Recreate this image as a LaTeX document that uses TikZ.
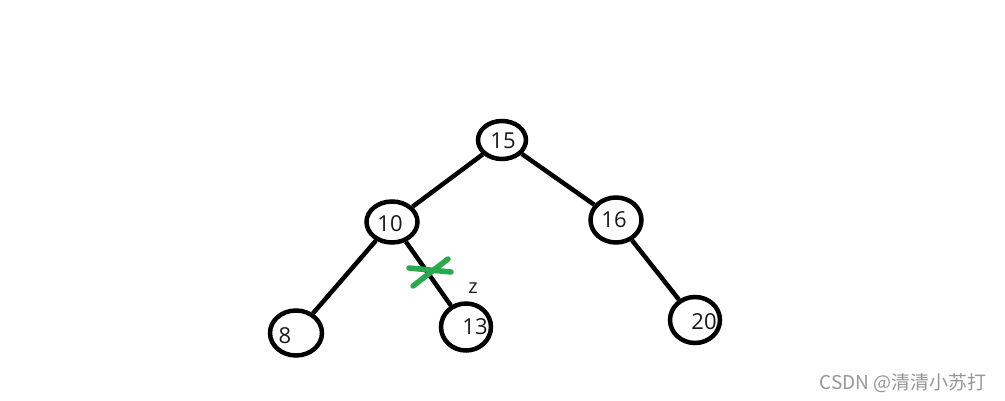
\documentclass[tikz,border=0pt]{standalone}
\usepackage{fontspec}
\setmainfont{Open Sans}
\newfontfamily\cjk{Noto Sans CJK SC}
\usetikzlibrary{shapes.geometric}
\begin{document}
\begin{tikzpicture}[x=1pt,y=-1pt,
  treenode/.style={draw=black,line width=4.5pt,ellipse,inner sep=0pt},
  numtext/.style={font=\fontsize{22}{22}\selectfont,text=black!90},
  edge/.style={draw=black,line width=4.5pt},
  cross/.style={line width=5.5pt,line cap=round,color={rgb,255:red,42;green,168;blue,78}}]
\useasboundingbox (0,0) rectangle (1005,401);
\fill[white] (0,0) rectangle (1005,401);
\node[treenode,minimum width=48pt,minimum height=38pt] (n15) at (502,140) {};
\node[treenode,minimum width=51pt,minimum height=41pt] (n10) at (392,222) {};
\node[treenode,minimum width=51pt,minimum height=45pt] (n16) at (616,220) {};
\node[treenode,minimum width=52pt,minimum height=45pt] (n8) at (296,333) {};
\node[treenode,minimum width=50pt,minimum height=47pt] (n13) at (466,327) {};
\node[treenode,minimum width=50pt,minimum height=46pt] (n20) at (695,320) {};
\node[numtext] (t15) at (503,141) {15};
\node[numtext] (t10) at (390,224) {10};
\node[numtext] (t16) at (614,220) {16};
\node[numtext] (t8) at (285,336) {8};
\node[numtext] (t13) at (475,327) {13};
\node[numtext] (t20) at (704,322) {20};
\draw[edge] (n15) -- (n10);
\draw[edge] (n15) -- (n16);
\draw[edge] (n10) -- (n8);
\draw[edge] (n10) -- (n13);
\draw[edge] (n16) -- (n20);
\coordinate (c1a) at (409,268);
\coordinate (c1b) at (451,272);
\coordinate (c2a) at (413,286);
\coordinate (c2b) at (448,259);
\draw[cross] (c1a) -- (c1b);
\draw[cross] (c2a) -- (c2b);
\node[numtext,font=\fontsize{20}{20}\selectfont] (z) at (473,288) {z};
\node[text={rgb,255:red,150;green,150;blue,150},font=\cjk\fontsize{19}{19}\selectfont,anchor=east] (wm) at (990,383) {CSDN @清清小苏打};
\end{tikzpicture}
\end{document}
